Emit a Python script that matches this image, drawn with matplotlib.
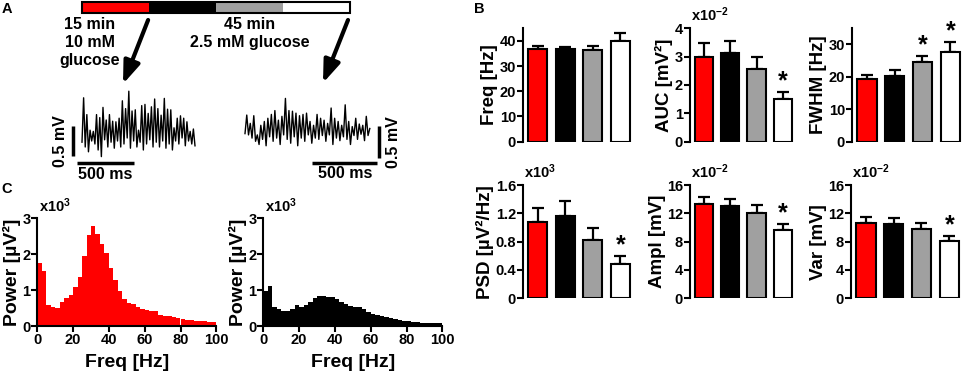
import numpy as np
import matplotlib
matplotlib.use('Agg')
import matplotlib.pyplot as plt
from matplotlib.patches import Rectangle

plt.rcParams['font.family'] = ['Liberation Sans', 'DejaVu Sans']
plt.rcParams['font.weight'] = 'bold'
plt.rcParams['axes.labelweight'] = 'bold'
plt.rcParams['mathtext.fontset'] = 'custom'
plt.rcParams['mathtext.rm'] = 'Liberation Sans:bold'
plt.rcParams['mathtext.it'] = 'Liberation Sans:bold'
plt.rcParams['mathtext.bf'] = 'Liberation Sans:bold'

# ---------------- data ----------------
bar_colors = ['#ff0000', '#000000', '#a0a0a0', '#ffffff']

freq_mean = [36.8, 36.6, 36.2, 40.1]
freq_sem = [1.3, 1.1, 1.9, 2.9]
auc_mean = [3.0, 3.12, 2.55, 1.5]
auc_sem = [0.47, 0.44, 0.45, 0.24]
fwhm_mean = [19.3, 20.3, 24.7, 27.7]
fwhm_sem = [1.3, 1.8, 1.9, 3.2]
psd_mean = [1.085, 1.16, 0.83, 0.48]
psd_sem = [0.195, 0.22, 0.16, 0.12]
ampl_mean = [13.3, 13.0, 12.0, 9.7]
ampl_sem = [1.1, 1.0, 1.2, 0.8]
var_mean = [10.7, 10.5, 9.85, 8.05]
var_sem = [0.85, 0.8, 0.85, 0.7]

# power spectra, 2.5 Hz bins 0-100 Hz (x10^3 uV^2)
bin_width = 2.5
red_power = [1.74, 1.54, 0.58, 0.52, 0.51, 0.68, 0.77, 0.86, 1.07, 1.37,
             1.94, 2.52, 2.79, 2.55, 2.27, 2.04, 1.62, 1.28, 0.97, 0.74,
             0.65, 0.60, 0.54, 0.46, 0.44, 0.43, 0.42, 0.31, 0.29, 0.27,
             0.25, 0.22, 0.20, 0.17, 0.16, 0.15, 0.14, 0.13, 0.11, 0.10]
black_power = [0.98, 1.11, 0.54, 0.46, 0.43, 0.43, 0.47, 0.57, 0.54, 0.58,
               0.68, 0.79, 0.83, 0.83, 0.81, 0.80, 0.75, 0.68, 0.61, 0.56,
               0.54, 0.52, 0.46, 0.40, 0.34, 0.30, 0.27, 0.24, 0.21, 0.19,
               0.17, 0.15, 0.13, 0.12, 0.10, 0.09, 0.09, 0.09, 0.08, 0.07]

# timeline segments (min)
timeline_minutes = [15, 15, 15, 15]

# example traces (mV), 1000 ms each
trace_left = [-0.12, 0.62, -0.20, 0.34, -0.28, 0.08, -0.10, 0.06, -0.15, 0.34,
              -0.25, 0.29, -0.36, 0.46, -0.08, 0.25, -0.20, 0.34, -0.12, 0.23,
              -0.22, 0.22, -0.10, 0.28, -0.20, 0.57, -0.15, 0.44, -0.05, 0.73,
              -0.22, 0.40, -0.10, 0.42, -0.20, 0.08, -0.12, 0.49, -0.25, 0.51,
              -0.15, 0.36, -0.08, 0.47, -0.20, 0.60, -0.12, 0.44, -0.20, 0.33,
              -0.10, 0.61, -0.22, 0.43, -0.15, 0.42, -0.25, 0.12, -0.10, 0.28,
              -0.15, 0.32, -0.05, 0.28, -0.18, 0.22, -0.10, 0.06, -0.15, 0.10,
              -0.18]
trace_right = [-0.03, 0.26, -0.05, 0.13, -0.10, 0.25, -0.15, -0.05, -0.20, 0.10,
               -0.12, 0.16, -0.22, 0.21, -0.08, 0.27, -0.15, 0.33, -0.10, 0.18,
               -0.20, 0.24, -0.05, 0.52, -0.12, 0.33, -0.18, 0.32, -0.08, 0.29,
               -0.22, 0.25, -0.10, 0.27, -0.15, 0.29, -0.05, 0.16, -0.18, 0.10,
               -0.10, 0.27, -0.12, 0.21, -0.06, 0.18, -0.15, 0.13, -0.05, 0.37,
               -0.20, 0.21, -0.10, 0.16, -0.14, 0.10, -0.08, 0.42, -0.12, 0.16,
               -0.20, 0.08, -0.06, 0.21, -0.12, 0.12, -0.04, 0.10, -0.14, 0.24,
               -0.06, 0.05]

# ---------------- layout helpers ----------------
W, H = 964, 375


def rect(x0, y0, x1, y1):
    return [x0 / W, 1 - y1 / H, (x1 - x0) / W, (y1 - y0) / H]


fig = plt.figure(figsize=(W / 100, H / 100), dpi=100)

TICK_FS = 10.5
LABEL_FS = 13.5


def style_axis(ax):
    for s in ['top', 'right']:
        ax.spines[s].set_visible(False)
    for s in ['left', 'bottom']:
        ax.spines[s].set_linewidth(1.5)
    ax.tick_params(direction='out', length=4, width=1.5, labelsize=TICK_FS, pad=1)


def bar_panel(box, means, sems, ylim, yticks, yticklabels, ylabel, mult, stars):
    ax = fig.add_axes(rect(*box))
    x = np.arange(len(means))
    ax.errorbar(x, means, yerr=[np.zeros(len(sems)), sems], fmt='none',
                ecolor='black', elinewidth=1.6, capsize=4, capthick=1.6, zorder=2)
    ax.bar(x, means, width=0.7, color=bar_colors, edgecolor='black',
           linewidth=1.5, zorder=3)
    style_axis(ax)
    ax.spines['bottom'].set_visible(False)
    ax.set_xticks([])
    ax.set_xlim(-0.53, 3.42)
    ax.set_ylim(*ylim)
    ax.set_yticks(yticks)
    ax.set_yticklabels(yticklabels)
    ax.set_ylabel(ylabel, fontsize=LABEL_FS, labelpad=1)
    if mult:
        ax.annotate(mult, xy=(0, 1), xycoords='axes fraction', xytext=(1, 3),
                    textcoords='offset points', ha='left', va='bottom',
                    fontsize=TICK_FS)
    for i in stars:
        ax.annotate('*', xy=(x[i], means[i] + sems[i]), xytext=(0, -1),
                    textcoords='offset points', ha='center', va='bottom',
                    fontsize=18)
    return ax


# ---------------- panel B ----------------
bar_panel((523, 28.3, 632, 141.7), freq_mean, freq_sem, (0, 45),
          [0, 10, 20, 30, 40], ['0', '10', '20', '30', '40'], 'Freq [Hz]', None, [])
bar_panel((690, 28.3, 794, 141.7), auc_mean, auc_sem, (0, 4),
          [0, 1, 2, 3, 4], ['0', '1', '2', '3', '4'], 'AUC [mV²]', r'x10$^{-2}$', [3])
bar_panel((852, 28.3, 962, 141.7), fwhm_mean, fwhm_sem, (0, 35),
          [0, 10, 20, 30], ['0', '10', '20', '30'], 'FWHM [Hz]', None, [2, 3])
bar_panel((523, 185.3, 632, 298), psd_mean, psd_sem, (0, 1.6),
          [0, 0.4, 0.8, 1.2, 1.6], ['0', '0.4', '0.8', '1.2', '1.6'],
          'PSD [µV²/Hz]', r'x10$^{3}$', [3])
bar_panel((690, 185.3, 794, 298), ampl_mean, ampl_sem, (0, 16),
          [0, 4, 8, 12, 16], ['0', '4', '8', '12', '16'], 'Ampl [mV]', r'x10$^{-2}$', [3])
bar_panel((851, 185.3, 961, 298), var_mean, var_sem, (0, 16),
          [0, 4, 8, 12, 16], ['0', '4', '8', '12', '16'], 'Var [mV]', r'x10$^{-2}$', [3])

# ---------------- panel C ----------------
bin_left = np.arange(len(red_power)) * bin_width
for box, power, col in [((37.3, 218, 216.3, 326), red_power, '#ff0000'),
                        ((263.3, 218, 442.3, 326), black_power, '#000000')]:
    ax = fig.add_axes(rect(*box))
    ax.bar(bin_left, power, width=bin_width, align='edge', color=col, linewidth=0)
    style_axis(ax)
    ax.set_xlim(0, 100)
    ax.set_ylim(0, 3)
    ax.set_xticks([0, 20, 40, 60, 80, 100])
    ax.set_yticks([0, 1, 2, 3])
    ax.set_xlabel('Freq [Hz]', fontsize=LABEL_FS + 0.5, labelpad=5)
    ax.set_ylabel('Power [µV²]', fontsize=LABEL_FS + 0.5, labelpad=1)
    ax.annotate(r'x10$^{3}$', xy=(0, 1), xycoords='axes fraction', xytext=(1, 2),
                textcoords='offset points', ha='left', va='bottom', fontsize=TICK_FS)

# ---------------- panel A ----------------
axA = fig.add_axes(rect(0, 0, 460, 170))
axA.set_xlim(-82 / 4.467, (460 - 82) / 4.467)
axA.set_ylim(170, 0)
axA.axis('off')
starts = np.concatenate([[0], np.cumsum(timeline_minutes)[:-1]])
axA.barh([7.5] * 4, timeline_minutes, left=starts, height=11.4,
         color=bar_colors, linewidth=0)
axA.add_patch(Rectangle((0, 1.8), sum(timeline_minutes), 11.4, fill=False,
                        edgecolor='black', linewidth=1.5))
arrow = dict(arrowstyle='-|>,head_length=1.35,head_width=0.5', lw=3,
             color='black', shrinkA=0, shrinkB=0)
axA.annotate('', xy=(9.18, 84), xytext=(14.8, 20), arrowprops=arrow)
axA.annotate('', xy=(53.95, 83), xytext=(59.55, 20), arrowprops=arrow)
axA.text(1.79, 17, '15 min\n10 mM\nglucose', ha='center', va='top',
         fontsize=11.5, linespacing=1.25)
axA.text(37.6, 17, '45 min\n2.5 mM glucose', ha='center', va='top',
         fontsize=11.5, linespacing=1.25)

# left trace
axT1 = fig.add_axes(rect(50, 85, 200, 185))
axT1.set_xlim((50 - 82) / 0.113, (200 - 82) / 0.113)
axT1.set_ylim((135 - 185) / 60, (135 - 85) / 60)
axT1.axis('off')
t1 = np.arange(len(trace_left)) * (1000 / (len(trace_left) - 1))
axT1.plot(t1, trace_left, color='black', lw=1.0)
axT1.plot([-80, -80], [-0.355, 0.145], color='black', lw=2.5, solid_capstyle='butt')
axT1.plot([-42, 458], [-0.47, -0.47], color='black', lw=2.5, solid_capstyle='butt')
axT1.text(208, -0.65, '500 ms', ha='center', va='center', fontsize=11.5)
axT1.text(-186, -0.11, '0.5 mV', ha='center', va='center', fontsize=11.5, rotation=90)

# right trace
axT2 = fig.add_axes(rect(235, 85, 410, 185))
axT2.set_xlim((235 - 245) / 0.13, (410 - 245) / 0.13)
axT2.set_ylim((131.7 - 185) / 64, (131.7 - 85) / 64)
axT2.axis('off')
t2 = np.arange(len(trace_right)) * (960 / (len(trace_right) - 1))
axT2.plot(t2, trace_right, color='black', lw=1.0)
axT2.plot([1031, 1031], [-0.406, 0.094], color='black', lw=2.5, solid_capstyle='butt')
axT2.plot([515, 1015], [-0.489, -0.489], color='black', lw=2.5, solid_capstyle='butt')
axT2.text(769, -0.66, '500 ms', ha='center', va='center', fontsize=11.5)
axT2.text(1142, -0.16, '0.5 mV', ha='center', va='center', fontsize=11.5, rotation=90)

# panel letters
fig.text(2 / W, 1 - 2 / H, 'A', ha='left', va='top', fontsize=10.5)
fig.text(474 / W, 1 - 2 / H, 'B', ha='left', va='top', fontsize=10.5)
fig.text(1 / W, 1 - 182 / H, 'C', ha='left', va='top', fontsize=10.5)

fig.savefig('out.png', dpi=100)
